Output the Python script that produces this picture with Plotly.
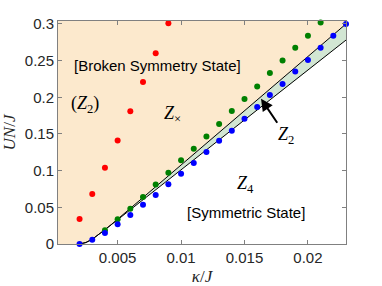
import plotly.graph_objects as go

# ---- data ----
kappa_red = [0.002, 0.003, 0.004, 0.005, 0.006, 0.007, 0.008, 0.009]
U_red = [0.034, 0.068, 0.104, 0.141, 0.181, 0.221, 0.260, 0.301]

kappa_green = [0.004, 0.005, 0.006, 0.007, 0.008, 0.009, 0.010, 0.011, 0.012,
               0.013, 0.014, 0.015, 0.016, 0.017, 0.018, 0.019, 0.020, 0.021]
U_green = [0.0187, 0.0337, 0.0481, 0.0641, 0.0811, 0.0972, 0.1141, 0.1300, 0.1466,
           0.1636, 0.1814, 0.1977, 0.2148, 0.2332, 0.2500, 0.2677, 0.2840, 0.3020]

kappa_blue = [0.002, 0.003, 0.004, 0.005, 0.006, 0.007, 0.008, 0.009, 0.010, 0.011,
              0.012, 0.013, 0.014, 0.015, 0.016, 0.017, 0.018, 0.019, 0.020, 0.021,
              0.022, 0.023]
U_blue = [0.0, 0.0059, 0.015, 0.0268, 0.0395, 0.0536, 0.0668, 0.0814, 0.0959, 0.1105,
          0.1255, 0.1409, 0.1545, 0.1709, 0.1868, 0.2032, 0.2182, 0.2350, 0.2510, 0.2677,
          0.2840, 0.3000]

kappa_line = [0.002, 0.0025, 0.003, 0.0035, 0.004, 0.0045, 0.005, 0.006, 0.007, 0.008,
              0.010, 0.012, 0.014, 0.016, 0.018, 0.020, 0.023]
U_upper = [0.0, 0.002, 0.0065, 0.0125, 0.0195, 0.0265, 0.0337, 0.0485, 0.0633, 0.0781,
           0.1077, 0.1373, 0.1669, 0.1965, 0.2261, 0.2557, 0.300]
U_lower = [0.0, 0.002, 0.0065, 0.0125, 0.0195, 0.0263, 0.0331, 0.0470, 0.0606, 0.0743,
           0.1015, 0.1285, 0.1555, 0.1825, 0.2095, 0.2365, 0.278]

x_ticks = [0.005, 0.01, 0.015, 0.02]
x_ticklabels = ["0.005", "0.01", "0.015", "0.02"]
y_ticks = [0, 0.05, 0.1, 0.15, 0.2, 0.25, 0.3]
y_ticklabels = ["0", "0.05", "0.1", "0.15", "0.2", "0.25", "0.3"]

x_range = [0.0003, 0.023]
y_range = [0.0, 0.304]

ORANGE = "#FCE9CD"
GREENFILL = "#D2E6D3"

fig = go.Figure()

# orange region (broken symmetry)
ox = [x_range[0], kappa_line[0]] + kappa_line + [x_range[1], x_range[1], x_range[0]]
oy = [0, 0] + U_upper + [U_upper[-1], 0.4, 0.4]
fig.add_trace(go.Scatter(x=ox, y=oy, fill="toself", fillcolor=ORANGE, mode="none",
                         hoverinfo="skip", showlegend=False))

# green band
gx = kappa_line + kappa_line[::-1]
gy = U_upper + U_lower[::-1]
fig.add_trace(go.Scatter(x=gx, y=gy, fill="toself", fillcolor=GREENFILL, mode="none",
                         hoverinfo="skip", showlegend=False))

# boundary lines
for U in (U_upper, U_lower):
    fig.add_trace(go.Scatter(x=kappa_line, y=U, mode="lines",
                             line=dict(color="black", width=1), showlegend=False))

marker_size = 6
fig.add_trace(go.Scatter(x=kappa_red, y=U_red, mode="markers", cliponaxis=False,
                         marker=dict(color="#FF0000", size=marker_size), showlegend=False))
fig.add_trace(go.Scatter(x=kappa_green, y=U_green, mode="markers", cliponaxis=False,
                         marker=dict(color="#008000", size=marker_size), showlegend=False))
fig.add_trace(go.Scatter(x=kappa_blue, y=U_blue, mode="markers", cliponaxis=False,
                         marker=dict(color="#0000FF", size=marker_size), showlegend=False))

SANS = "Liberation Sans, Arial, sans-serif"
SERIF = "Liberation Serif, DejaVu Serif, serif"

ann = [
    dict(x=0.00818, y=0.2427, text="[Broken Symmetry State]", font=dict(family=SANS, size=15, color="black")),
    dict(x=0.00242, y=0.1896, text="(<i>Z</i><sub>2</sub>)", font=dict(family=SERIF, size=18, color="black")),
    dict(x=0.00929, y=0.176, text="<i>Z</i><sub>×</sub>", font=dict(family=SERIF, size=18, color="black")),
    dict(x=0.01505, y=0.0805, text="<i>Z</i><sub>4</sub>", font=dict(family=SERIF, size=18, color="black")),
    dict(x=0.01513, y=0.0436, text="[Symmetric State]", font=dict(family=SANS, size=15, color="black")),
]
for a in ann:
    fig.add_annotation(xref="x", yref="y", showarrow=False, **a)

fig.add_annotation(xref="x", yref="y", x=0.0163, y=0.198, text="<i>Z</i><sub>2</sub>",
                   font=dict(family=SERIF, size=18, color="black"),
                   showarrow=True, arrowhead=2, arrowsize=1.2, arrowwidth=2, arrowcolor="black",
                   ax=25, ay=37, standoff=0)

axis_common = dict(showgrid=False, zeroline=False, showline=True, linecolor="#808080",
                   linewidth=1, mirror="ticks", ticks="inside", ticklen=4, tickcolor="#808080",
                   automargin=False,
                   tickfont=dict(family=SANS, size=15, color="#262626"))

fig.update_xaxes(range=x_range, tickvals=x_ticks, ticktext=x_ticklabels,
                 title=dict(text="<i>κ</i>/<i>J</i>", font=dict(family=SERIF, size=17, color="#262626"),
                            standoff=11),
                 **axis_common)
fig.update_yaxes(range=y_range, tickvals=y_ticks, ticktext=y_ticklabels,
                 title=dict(text="<i>UN</i>/<i>J</i>", font=dict(family=SERIF, size=17, color="#262626"),
                            standoff=6),
                 **axis_common)

fig.update_layout(width=382, height=286, margin=dict(l=58, r=36, t=21, b=42),
                  plot_bgcolor="white", paper_bgcolor="white")

fig.write_html("out.html", config={"displayModeBar": False},
               post_script="document.body.style.margin='0';document.body.style.overflow='hidden';")
